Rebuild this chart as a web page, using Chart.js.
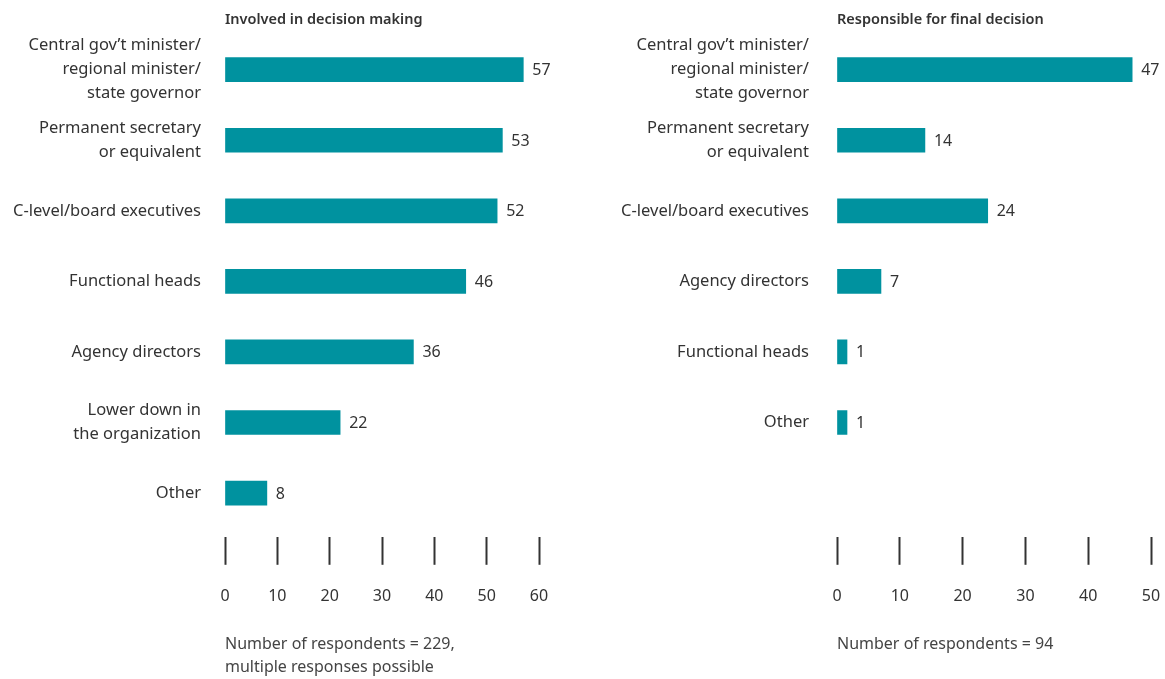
<!DOCTYPE html>
<html lang="en">
<head>
    <meta charset="UTF-8">
    <title>Decision making roles</title>
    <script src="https://cdn.jsdelivr.net/npm/chart.js"></script>
    <style>
        body {
            margin: 0;
            background: #ffffff;
            font-family: 'Noto Sans', sans-serif;
        }
        .panel {
            position: absolute;
            top: 0;
        }
        #leftPanel { left: 0; }
        #rightPanel { left: 590px; }
    </style>
</head>
<body>
    <div class="panel" id="leftPanel"><canvas id="leftChart" width="590" height="679"></canvas></div>
    <div class="panel" id="rightPanel"><canvas id="rightChart" width="575" height="679"></canvas></div>

    <script>
        // Left panel data
        const leftTitle = 'Involved in decision making';
        const leftLabels = [
            ['Central gov\u2019t minister/', 'regional minister/', 'state governor'],
            ['Permanent secretary', 'or equivalent'],
            'C-level/board executives',
            'Functional heads',
            'Agency directors',
            ['Lower down in', 'the organization'],
            'Other'
        ];
        const leftValues = [57, 53, 52, 46, 36, 22, 8];
        const leftAxisMax = 60;
        const leftNote = ['Number of respondents = 229,', 'multiple responses possible'];

        // Right panel data
        const rightTitle = 'Responsible for final decision';
        const rightLabels = [
            ['Central gov\u2019t minister/', 'regional minister/', 'state governor'],
            ['Permanent secretary', 'or equivalent'],
            'C-level/board executives',
            'Agency directors',
            'Functional heads',
            'Other'
        ];
        const rightValues = [47, 14, 24, 7, 1, 1];
        const rightAxisMax = 50;
        const rightNote = ['Number of respondents = 94'];

        const barColor = '#00929f';
        const textColor = '#333333';
        const fontFamily = "'Noto Sans', sans-serif";

        // Draw the number at the end of each bar
        const valueLabels = {
            id: 'valueLabels',
            afterDatasetsDraw(chart) {
                const ctx = chart.ctx;
                const meta = chart.getDatasetMeta(0);
                const data = chart.data.datasets[0].data;
                ctx.save();
                ctx.font = '16px ' + fontFamily;
                ctx.fillStyle = textColor;
                ctx.textBaseline = 'middle';
                ctx.textAlign = 'left';
                meta.data.forEach((bar, i) => {
                    ctx.fillText(data[i].x, bar.x + 9, bar.y + 1);
                });
                ctx.restore();
            }
        };

        function makeChart(id, title, labels, values, axisMax, note, axisWidth, labelPad, rightPad, bottomPad) {
            const ctx = document.getElementById(id).getContext('2d');
            return new Chart(ctx, {
                type: 'bar',
                data: {
                    datasets: [{
                        data: values.map((v, i) => ({ x: v, y: i })),
                        backgroundColor: barColor,
                        borderWidth: 0,
                        barThickness: 24,
                        minBarLength: 10
                    }]
                },
                options: {
                    indexAxis: 'y',
                    responsive: false,
                    animation: false,
                    layout: {
                        padding: { left: 0, right: rightPad, top: 0, bottom: bottomPad }
                    },
                    scales: {
                        x: {
                            type: 'linear',
                            min: 0,
                            max: axisMax,
                            afterFit: s => {
                                s.paddingLeft = 0;
                                s.paddingRight = 0;
                            },
                            ticks: {
                                stepSize: 10,
                                color: textColor,
                                padding: 22,
                                font: { family: fontFamily, size: 16 }
                            },
                            grid: {
                                display: true,
                                drawOnChartArea: false,
                                drawTicks: true,
                                tickLength: 28,
                                tickWidth: 2,
                                tickColor: '#333333',
                                color: '#333333'
                            },
                            border: { display: false }
                        },
                        y: {
                            type: 'linear',
                            reverse: true,
                            offset: false,
                            min: -0.5,
                            max: 6.62,
                            afterBuildTicks: s => {
                                s.ticks = labels.map((_, i) => ({ value: i }));
                            },
                            afterFit: s => {
                                s.width = axisWidth;
                                s.paddingTop = 0;
                                s.paddingBottom = 0;
                            },
                            ticks: {
                                autoSkip: false,
                                color: textColor,
                                padding: labelPad,
                                font: { family: fontFamily, size: 16.5, lineHeight: '24px' },
                                callback: v => labels[v]
                            },
                            grid: { display: false, drawTicks: false },
                            border: { display: false }
                        }
                    },
                    plugins: {
                        legend: { display: false },
                        tooltip: { enabled: false },
                        title: {
                            display: true,
                            text: title,
                            align: 'start',
                            fullSize: false,
                            color: textColor,
                            font: { family: fontFamily, size: 14.5, weight: '600', lineHeight: 1.2 },
                            padding: { top: 11, bottom: 6 }
                        },
                        subtitle: {
                            display: true,
                            text: note,
                            position: 'bottom',
                            align: 'start',
                            fullSize: false,
                            color: '#444444',
                            font: { family: fontFamily, size: 16, weight: '400', lineHeight: '23px' },
                            padding: { top: 5, bottom: 0 }
                        }
                    }
                },
                plugins: [valueLabels]
            });
        }

        makeChart('leftChart', leftTitle, leftLabels, leftValues, leftAxisMax, leftNote, 225, 24, 51, 0);
        makeChart('rightChart', rightTitle, rightLabels, rightValues, rightAxisMax, rightNote, 247, 28, 14, 23);
    </script>
</body>
</html>
